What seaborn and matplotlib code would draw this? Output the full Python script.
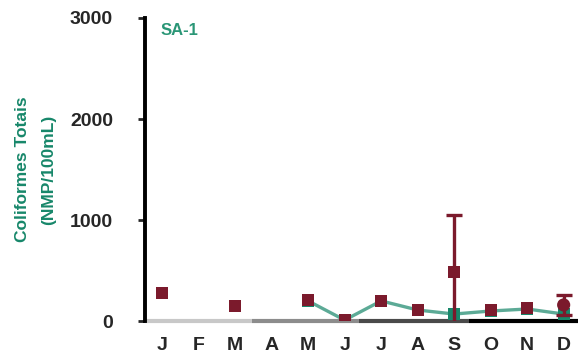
import numpy as np
import pandas as pd
import matplotlib
matplotlib.use("Agg")
import matplotlib.pyplot as plt
import seaborn as sns

# data (NMP/100mL)
months = ["J", "F", "M", "A", "M", "J", "J", "A", "S", "O", "N", "D"]
mean_vals = [280, np.nan, 150, np.nan, 210, 10, 200, 110, 490, 110, 130, 160]
mean_err = [0, 0, 0, 0, 0, 0, 0, 0, 560, 0, 0, 100]
median_vals = [280, np.nan, 150, np.nan, 200, 10, 200, 110, 70, 100, 120, 70]

# seasonal bands along the x axis (start, end as month index) and colours
season_start = [-0.47, 2.45, 5.4, 8.4]
season_end = [2.45, 5.4, 8.4, 11.4]
season_colors = ["#c8c8c8", "#8c8c8c", "#4a4a4a", "#000000"]

red = "#7b1a2c"
green = "#17876a"

df = pd.DataFrame({"idx": np.arange(12), "month": months,
                   "mean": mean_vals, "err": mean_err, "median": median_vals})

sns.set_style("white")
plt.rcParams["font.family"] = ["Liberation Sans", "DejaVu Sans"]

fig = plt.figure(figsize=(5.8, 3.6), dpi=100)
ax = fig.add_axes([0.25, 0.108, 0.747, 0.842])

# green median line (only connected from May onwards)
line_df = df[df["idx"] >= 4]
sns.lineplot(x="idx", y="median", data=line_df, ax=ax, color=green,
             linewidth=2.4, alpha=0.7, zorder=2)
sns.scatterplot(x="idx", y="median", data=df, ax=ax, color=green,
                marker="s", s=75, edgecolor="none", zorder=3)

# red means with error bars
err_df = df[df["err"] > 0]
ax.errorbar(err_df["idx"], err_df["mean"], yerr=err_df["err"], fmt="none",
            ecolor=red, elinewidth=2.4, capsize=6, capthick=2.4, zorder=4)
sns.scatterplot(x="idx", y="mean", data=df[df["idx"] != 11], ax=ax, color=red,
                marker="s", s=72, edgecolor="none", zorder=5)
sns.scatterplot(x="idx", y="mean", data=df[df["idx"] == 11], ax=ax, color=red,
                marker="o", s=90, edgecolor="none", zorder=5)
sns.scatterplot(x="idx", y="mean", data=df[df["idx"] == 8], ax=ax, color=red,
                marker="o", s=70, edgecolor="none", zorder=5)

# seasonal bottom axis
for s0, s1, c in zip(season_start, season_end, season_colors):
    ax.plot([s0, s1], [0, 0], color=c, linewidth=3, solid_capstyle="butt",
            zorder=1, clip_on=False)

ax.set_xlim(-0.47, 11.4)
ax.set_ylim(0, 3000)
ax.set_yticks([0, 1000, 2000, 3000])
ax.set_xticks(df["idx"])
ax.set_xticklabels(months)
ax.tick_params(axis="y", which="both", left=True, length=5, width=2,
               labelsize=14, pad=18, direction="out")
ax.tick_params(axis="x", bottom=False, labelsize=14, pad=8)
for lab in ax.get_xticklabels() + ax.get_yticklabels():
    lab.set_fontweight("bold")

for sp in ["top", "right", "bottom"]:
    ax.spines[sp].set_visible(False)
ax.spines["left"].set_linewidth(2.8)
ax.spines["left"].set_color("black")

ax.set_xlabel("")
ax.set_ylabel("Coliformes Totais\n(NMP/100mL)", color=green, fontsize=12.5,
              fontweight="bold", labelpad=10, linespacing=1.9)
ax.text(0.035, 0.985, "SA-1", transform=ax.transAxes, color="#2a9676",
        fontsize=12, fontweight="bold", va="top")

fig.savefig("out.png", dpi=100)
